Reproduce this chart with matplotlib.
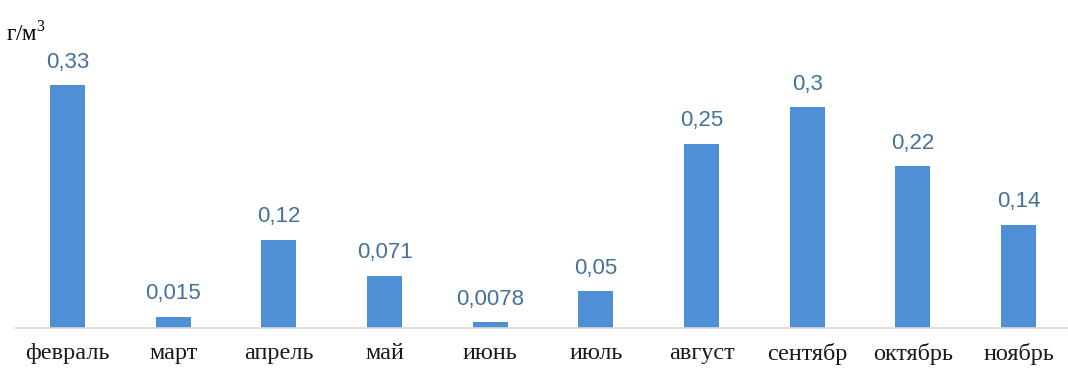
import matplotlib.pyplot as plt

# monthly concentration, g/m3
months = ["февраль", "март", "апрель", "май", "июнь",
          "июль", "август", "сентябр", "октябрь", "ноябрь"]
values = [0.33, 0.015, 0.12, 0.071, 0.0078, 0.05, 0.25, 0.3, 0.22, 0.14]
value_labels = ["0,33", "0,015", "0,12", "0,071", "0,0078",
                "0,05", "0,25", "0,3", "0,22", "0,14"]

plt.rcParams["mathtext.fontset"] = "custom"
plt.rcParams["mathtext.rm"] = "Liberation Serif"

fig = plt.figure(figsize=(10.68, 3.74), dpi=100)
ax = fig.add_axes([0.0137, 0.123, 0.9895, 0.689])

x = range(len(months))
ax.bar(x, values, width=0.33, color="#4f8fd6", zorder=2)

for xi, v, lab in zip(x, values, value_labels):
    ax.annotate(lab, (xi, v), xytext=(0, 9), textcoords="offset points",
                ha="center", va="bottom", fontsize=16, color="#44719a",
                family="Liberation Sans")

ax.set_xlim(-0.5, len(months) - 0.5)
ax.set_ylim(0, 0.35)
ax.set_xticks(list(x))
ax.set_xticklabels(months, family="Liberation Serif", fontsize=17.5, color="#1a1a1a")
ax.tick_params(axis="x", length=0, pad=11)
ax.set_yticks([])

for side in ["top", "right", "left"]:
    ax.spines[side].set_visible(False)
ax.spines["bottom"].set_color("#d9d9d9")
ax.spines["bottom"].set_linewidth(1.2)

fig.text(0.006, 0.945, r"г/м$^3$", family="Liberation Serif", fontsize=16.5,
         color="#000000", ha="left", va="top")

fig.savefig("out.png", dpi=100, facecolor="white")
